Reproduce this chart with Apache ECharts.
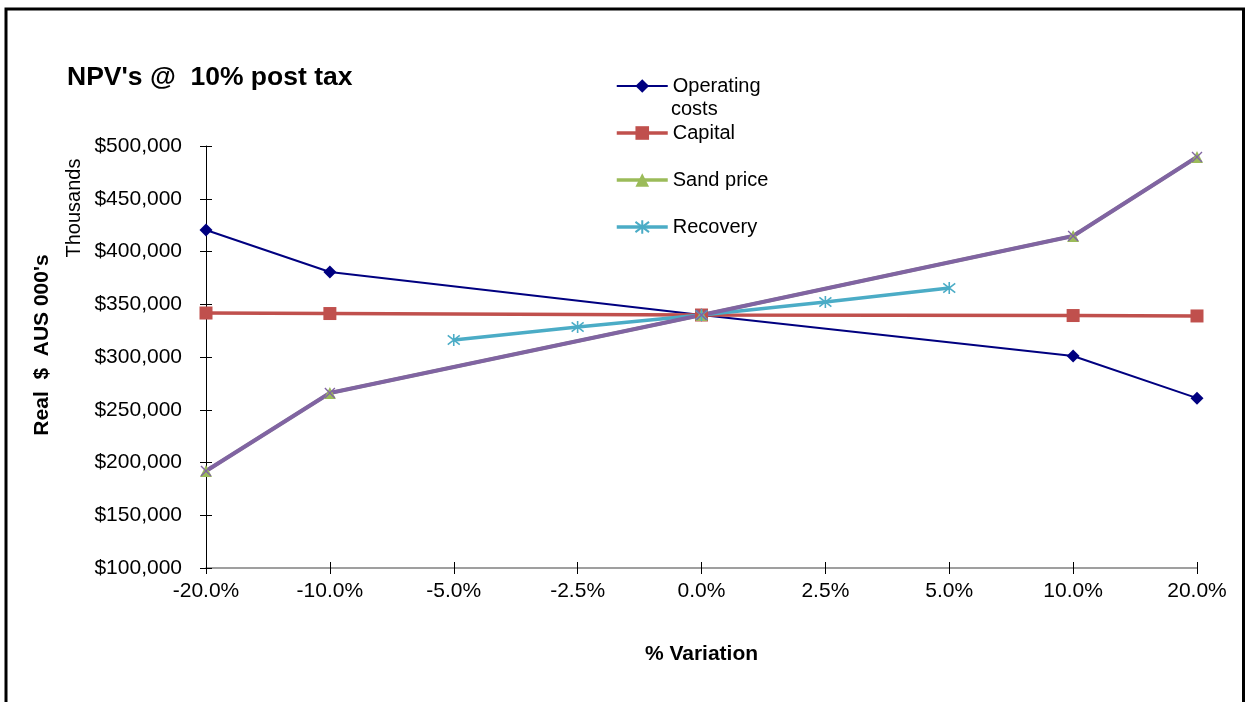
<!DOCTYPE html>
<html>
<head>
<meta charset="utf-8">
<title>NPV sensitivity</title>
<script src="https://cdn.jsdelivr.net/npm/echarts@6/dist/echarts.min.js"></script>
<style>
  html, body { margin: 0; padding: 0; background: #fff; }
  #chart { width: 1245px; height: 702px; }
</style>
</head>
<body>
<div id="chart"></div>
<script>
// Sensitivity of NPV (10% post tax) to % variation in each driver
const categories = ['-20.0%', '-10.0%', '-5.0%', '-2.5%', '0.0%', '2.5%', '5.0%', '10.0%', '20.0%'];
const operatingCosts = [420400, 380600, null, null, 339800, null, null, 301000, 261000];
const capital        = [341700, 341200, null, null, 339800, null, null, 339300, 338900];
const sandPrice      = [191900, 265900, null, null, 339800, null, null, 414700, 489500];
const recovery       = [null, null, 316100, 328400, 339800, 352100, 365400, null, null];
const series5        = [191900, 265900, null, null, 339800, null, null, 414700, 489500];
const yTicks = { min: 100000, max: 500000, interval: 50000 };

const FONT = '"Liberation Sans", Arial, sans-serif';
const asterisk = 'path://M5,0 L5,10 M1.2,1.2 L8.8,8.8 M1.2,8.8 L8.8,1.2';
const cross = 'path://M0,0 L10,10 M0,10 L10,0';

const chart = echarts.init(document.getElementById('chart'), null, { renderer: 'canvas' });

const money = v => '$' + v.toLocaleString('en-US');

chart.setOption({
  animation: false,
  backgroundColor: '#ffffff',
  title: {
    text: "NPV's @  10% post tax",
    left: 62, top: 59,
    textStyle: { fontFamily: FONT, fontSize: 26.5, fontWeight: 'bold', color: '#000' }
  },
  legend: {
    orient: 'vertical',
    left: 615, top: 74, padding: 0,
    itemWidth: 51, itemHeight: 17, itemGap: 23,
    data: [
      { name: 'Operating costs', lineStyle: { width: 2.2 } },
      { name: 'Capital', lineStyle: { width: 3.5 } },
      { name: 'Sand price', lineStyle: { width: 3.5 } },
      { name: 'Recovery', lineStyle: { width: 3.5 } }
    ],
    formatter: name => name === 'Operating costs' ? 'Operating' : name,
    textStyle: { fontFamily: FONT, fontSize: 20, color: '#000', lineHeight: 24 }
  },
  grid: { left: 206, right: 48, top: 146, bottom: 134, containLabel: false },
  xAxis: [{
    type: 'category',
    data: categories,
    boundaryGap: false,
    name: '% Variation',
    nameLocation: 'middle',
    nameGap: 76,
    nameTextStyle: { fontFamily: FONT, fontSize: 21, fontWeight: 'bold', color: '#000' },
    axisLine: { lineStyle: { color: '#808080', width: 1.5 } },
    axisTick: { show: true, length: 6, alignWithLabel: true, lineStyle: { color: '#000' } },
    axisLabel: { fontFamily: FONT, fontSize: 21, color: '#000', margin: 13 },
    splitLine: { show: false }
  }, {
    type: 'category',
    data: categories,
    boundaryGap: false,
    position: 'bottom',
    axisLine: { show: false },
    axisTick: { show: true, inside: true, length: 6, lineStyle: { color: '#000' } },
    axisLabel: { show: false },
    splitLine: { show: false }
  }],
  yAxis: [{
    type: 'value',
    min: yTicks.min, max: yTicks.max, interval: yTicks.interval,
    axisLine: { show: true, lineStyle: { color: '#000', width: 1 } },
    axisTick: { show: true, length: 6, lineStyle: { color: '#000' } },
    axisLabel: { fontFamily: FONT, fontSize: 21, color: '#000', margin: 24, formatter: money },
    splitLine: { show: false }
  }, {
    type: 'value',
    position: 'left',
    min: yTicks.min, max: yTicks.max, interval: yTicks.interval,
    axisLine: { show: false },
    axisTick: { show: true, inside: true, length: 6, lineStyle: { color: '#000' } },
    axisLabel: { show: false },
    splitLine: { show: false }
  }],
  series: [
    {
      name: 'Operating costs', type: 'line', data: operatingCosts,
      connectNulls: true, showAllSymbol: true,
      symbol: 'diamond', symbolSize: 13,
      itemStyle: { color: '#000080' },
      lineStyle: { color: '#000080', width: 2 }
    },
    {
      name: 'Capital', type: 'line', data: capital,
      connectNulls: true, showAllSymbol: true,
      symbol: 'rect', symbolSize: 13,
      itemStyle: { color: '#C0504D' },
      lineStyle: { color: '#C0504D', width: 3.5 }
    },
    {
      name: 'Sand price', type: 'line', data: sandPrice,
      connectNulls: true, showAllSymbol: true,
      symbol: 'triangle', symbolSize: 12,
      itemStyle: { color: '#9BBB59' },
      lineStyle: { color: '#9BBB59', width: 3.5 }
    },
    {
      name: 'Recovery', type: 'line', data: recovery,
      connectNulls: true, showAllSymbol: true,
      symbol: asterisk, symbolSize: 12,
      itemStyle: { color: 'rgba(0,0,0,0)', borderColor: '#4BACC6', borderWidth: 1.6 },
      lineStyle: { color: '#4BACC6', width: 3.5 }
    },
    {
      name: 'Series5', type: 'line', data: series5,
      connectNulls: true, showAllSymbol: true,
      symbol: cross, symbolSize: 10,
      itemStyle: { color: 'rgba(0,0,0,0)', borderColor: '#8064A2', borderWidth: 1.4 },
      lineStyle: { color: '#8064A2', width: 4.2 }
    }
  ],
  graphic: [
    {
      type: 'rect', silent: true,
      shape: { x: 6, y: 9, width: 1237.5, height: 760 },
      style: { fill: 'none', stroke: '#000', lineWidth: 3 }
    },
    {
      type: 'text', left: 671, top: 99,
      style: { text: 'costs', font: '20px ' + FONT, fill: '#000' }
    },
    {
      type: 'text', x: 42, y: 345, rotation: Math.PI / 2,
      style: {
        text: "Real  $  AUS 000's", font: 'bold 21px ' + FONT, fill: '#000',
        textAlign: 'center', textVerticalAlign: 'middle'
      }
    },
    {
      type: 'text', x: 74, y: 208, rotation: Math.PI / 2,
      style: {
        text: 'Thousands', font: '20px ' + FONT, fill: '#000',
        textAlign: 'center', textVerticalAlign: 'middle'
      }
    }
  ]
});
</script>
</body>
</html>
